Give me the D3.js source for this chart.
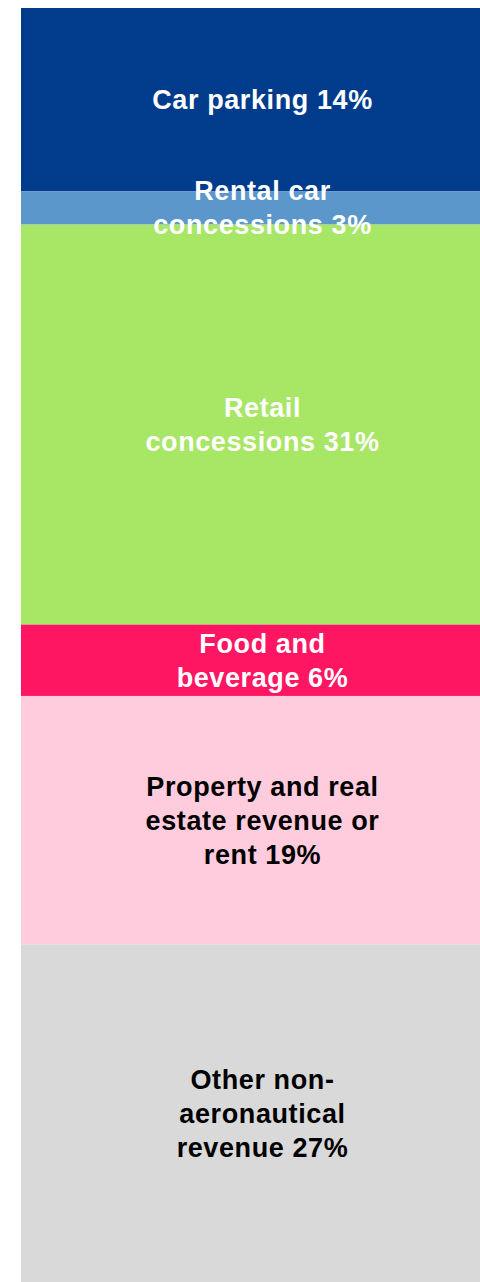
<!DOCTYPE html>
<html>
<head>
<meta charset="utf-8">
<script src="https://cdn.jsdelivr.net/npm/d3@7"></script>
<style>
  html, body { margin: 0; padding: 0; background: #fff; overflow: hidden; }
  svg { display: block; }
</style>
</head>
<body>
<div id="chart"></div>
<script>
// Non-aeronautical revenue shares (single stacked column)
var categories = ["Car parking", "Rental car concessions", "Retail concessions",
                  "Food and beverage", "Property and real estate revenue or rent",
                  "Other non-aeronautical revenue"];
var shares = [14.4, 2.6, 31.4, 5.6, 19.5, 26.5];
var labelLines = [
    ["Car parking 14%"],
    ["Rental car", "concessions 3%"],
    ["Retail", "concessions 31%"],
    ["Food and", "beverage 6%"],
    ["Property and real", "estate revenue or", "rent 19%"],
    ["Other non-", "aeronautical", "revenue 27%"]
];
var colors = ["#003b8c", "#5b97cb", "#a8e665", "#ff1662", "#ffccdd", "#d9d9d9"];
var textColors = ["#fff", "#fff", "#fff", "#fff", "#000", "#000"];

var width = 480, height = 1282;
var margins = { top: 8, left: 21, bottom: 0 };
var barWidth = 482;

var svg = d3.select("#chart")
    .append("svg")
    .attr("width", width)
    .attr("height", height);

// Stack the shares
var segments = [];
var acc = 0;
for (let i = 0; i < shares.length; i++) {
    segments.push({ name: categories[i], y0: acc, y1: acc + shares[i], lines: labelLines[i], fill: colors[i], text: textColors[i] });
    acc += shares[i];
}

var yScale = d3.scaleLinear()
    .domain([0, d3.sum(shares)])
    .range([margins.top, height - margins.bottom]);

var xScale = d3.scaleBand()
    .domain(["column"])
    .range([margins.left, margins.left + barWidth])
    .padding(0);

svg.append("g")
    .selectAll("rect")
    .data(segments)
    .enter()
    .append("rect")
    .attr("x", xScale("column"))
    .attr("width", xScale.bandwidth())
    .attr("y", function(d) { return yScale(d.y0); })
    .attr("height", function(d) { return yScale(d.y1) - yScale(d.y0); })
    .attr("fill", function(d) { return d.fill; });

var lineHeight = 34;
var labels = svg.append("g")
    .selectAll("text")
    .data(segments)
    .enter()
    .append("text")
    .attr("text-anchor", "middle")
    .style("font-family", "'Liberation Sans', Arial, sans-serif")
    .style("font-weight", "bold")
    .style("font-size", "27px")
    .style("letter-spacing", "0.6px")
    .attr("fill", function(d) { return d.text; });

labels.each(function(d) {
    let cx = xScale("column") + xScale.bandwidth() / 2 + 0.5;
    let cy = (yScale(d.y0) + yScale(d.y1)) / 2;
    let first = cy - (d.lines.length - 1) * lineHeight / 2;
    d3.select(this).selectAll("tspan")
        .data(d.lines)
        .enter()
        .append("tspan")
        .attr("x", cx)
        .attr("y", function(l, i) { return first + i * lineHeight; })
        .attr("dy", "0.35em")
        .text(function(l) { return l; });
});
</script>
</body>
</html>
